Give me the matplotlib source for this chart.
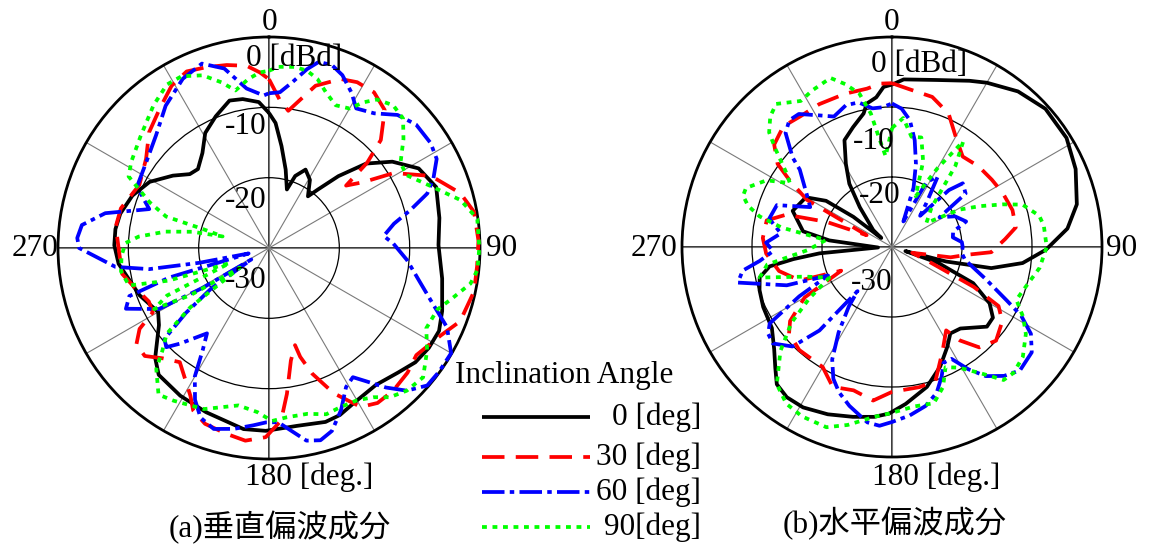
import numpy as np
import matplotlib
matplotlib.use('Agg')
import matplotlib.pyplot as plt
from matplotlib.lines import Line2D

# ---- data: angle [deg, clockwise from top] and level [dBd] ----
# (a) vertical polarisation
a_black_deg = [0, 3, 7, 12, 17, 20, 25, 31, 37, 40, 44, 49, 55, 62, 70, 80, 89, 100, 110, 116, 122, 128,
               134, 142, 151, 157, 162, 171, 181, 188, 201, 211, 221, 226, 235, 240, 250, 264, 271, 277,
               283, 291, 299, 307, 313, 318, 325, 331, 338, 345, 350, 356]
a_black_db = [-10.8, -12.2, -15.4, -18.6, -21.3, -19.1, -17.7, -18.7, -20.8, -19.1, -15.8, -11.7, -8.6,
              -5.9, -4.7, -5.4, -5.9, -5.0, -3.8, -3.1, -3.2, -3.6, -4.5, -5.3, -4.9, -4.2, -4.0, -4.4,
              -4.0, -4.0, -5.0, -5.5, -6.1, -7.5, -10.9, -11.8, -10.4, -8.5, -8.0, -8.0, -8.3, -9.2,
              -10.6, -12.9, -14.6, -14.9, -13.5, -11.3, -9.8, -8.3, -8.5, -9.2]

a_red_deg = [0, 4, 8, 12, 16, 23, 28, 34, 40, 46, 49, 51, 55, 59, 66, 74, 80, 88, 95, 102, 111, 117, 126,
             132, 139, 145, 150, 156, 161, 164, 165, 169, 173, 176, 181, 187, 193, 200, 205, 208, 213,
             218, 224, 229, 234, 238, 241, 246, 253, 260, 268, 278, 285, 296, 306, 314, 322, 329, 335,
             341, 347, 353, 357]
a_red_db = [-6.0, -8.8, -10.3, -8.4, -6.0, -3.9, -3.3, -3.3, -4.4, -7.9, -11.5, -15.9, -13.7, -9.3, -4.8,
            -1.7, -0.4, -0.2, -0.3, -0.2, -0.9, -2.6, -4.1, -3.5, -3.1, -3.1, -3.9, -7.4, -11.1, -13.9,
            -15.7, -13.7, -9.1, -5.4, -3.1, -2.4, -2.9, -3.4, -4.5, -6.2, -8.0, -9.4, -8.2, -6.6, -6.7,
            -8.3, -11.1, -11.3, -10.2, -8.8, -8.7, -8.0, -8.2, -9.5, -8.4, -6.3, -4.8, -3.1, -2.3, -2.8,
            -3.3, -3.9, -5.0]

a_blue_deg = [0, 4, 8, 12, 15, 19, 23, 28, 32, 38, 44, 50, 57, 62, 67, 71, 75, 79, 84, 88, 95, 103, 109,
              114, 120, 126, 131, 136, 140, 144, 147, 151, 156, 161, 165, 169, 173, 177, 181, 185, 191,
              197, 202, 206, 210, 213, 216, 223, 226, 229, 232, 235, 237, 239, 241, 247, 251, 253.5,
              255, 258, 260, 263, 270, 273, 277, 282, 288, 291, 295, 305, 315, 324, 333, 340, 346, 352,
              358]
a_blue_db = [-8.0, -7.8, -6.2, -4.0, -2.6, -2.5, -3.3, -5.0, -6.6, -5.7, -3.7, -2.7, -2.6, -3.0, -4.6,
             -6.2, -9.2, -11.9, -13.6, -12.3, -10.3, -7.9, -5.3, -2.3, -0.1, -0.1, -0.2, -1.8, -4.1,
             -6.6, -8.1, -7.4, -4.8, -2.5, -1.7, -2.1, -3.8, -5.2, -5.2, -4.7, -3.8, -3.1, -4.0, -6.0,
             -8.9, -12.7, -15.0, -11.4, -9.7, -10.3, -15.0, -20.0, -27.0, -19.0, -12.1, -7.9, -9.0,
             -15.2, -27.0, -19.9, -12.7, -8.0, -3.0, -2.7, -3.2, -6.2, -12.1, -11.0, -9.3, -8.7, -7.3,
             -5.0, -3.0, -2.1, -3.7, -7.1, -8.3]

a_green_deg = [0, 3, 8, 12, 16, 20, 25, 30, 33, 36, 41, 46, 51, 57, 62, 69, 76, 82, 90, 96, 100, 106,
               110, 117, 123, 130, 136, 141, 145, 150, 156, 161, 167, 174, 179, 184, 191, 202, 212, 217,
               223, 226, 230, 233, 236, 239, 242, 245, 249, 252, 255, 261, 267, 272, 275, 279, 282, 284,
               286, 287, 291, 297, 302, 311, 321, 328, 333, 339, 344, 348, 353, 357]
a_green_db = [-4.8, -4.2, -4.0, -4.2, -5.0, -6.4, -7.6, -7.1, -5.3, -3.9, -3.1, -3.5, -5.4, -7.7, -7.9,
              -5.4, -1.9, -0.1, -0.1, -0.2, -0.9, -3.2, -4.5, -4.9, -3.2, -1.4, -1.8, -2.7, -4.1, -5.0,
              -5.2, -5.0, -5.8, -5.8, -5.4, -6.6, -7.2, -5.3, -4.4, -3.9, -6.5, -8.9, -11.0, -16.0,
              -25.0, -17.0, -11.5, -14.0, -24.0, -15.0, -9.4, -8.7, -9.0, -9.6, -11.4, -15.1, -18.9,
              -23.2, -20.2, -14.7, -11.8, -7.6, -6.9, -5.8, -3.9, -2.6, -2.6, -3.7, -5.5, -7.1, -5.8,
              -5.0]

# (b) horizontal polarisation
b_black_deg = [0, 4, 15, 25, 30, 39, 48, 58, 67, 77, 84, 91, 97, 102, 105, 107, 109, 114, 120, 125, 130,
               140, 146, 151, 158, 166, 175, 181, 186, 193, 201, 209, 215, 220, 224, 229, 236, 245, 252,
               257, 261, 263, 265, 268, 276, 280, 290, 300, 305, 308, 310, 312, 321, 326, 331, 336, 342,
               348, 350, 354, 357]
b_black_db = [-6.8, -6.0, -5.3, -3.8, -2.9, -1.4, -0.5, -0.6, -1.5, -2.9, -4.8, -8.0, -11.2, -15.5,
              -22.0, -28.0, -23.0, -17.3, -13.9, -12.4, -12.3, -14.8, -15.1, -13.7, -11.6, -9.4, -7.5,
              -6.2, -5.6, -5.1, -4.4, -3.8, -3.8, -4.4, -6.0, -7.7, -9.3, -9.7, -10.1, -10.6, -12.3,
              -15.8, -19.6, -28.0, -21.0, -17.1, -14.9, -15.8, -18.5, -23.0, -28.0, -26.4, -22.7,
              -19.1, -16.4, -13.3, -12.0, -10.5, -9.2, -8.5, -7.1]

b_red_deg = [0, 6, 15, 23, 30, 38, 47, 56, 64, 73, 81, 86, 93, 96, 100, 106, 112, 116, 119, 124, 132, 139,
             144, 147, 154, 162, 169, 180, 187, 195, 203, 210, 222, 230, 234, 240, 245, 250, 258, 267,
             274, 282, 287, 291, 295, 299, 303, 306, 311, 318, 325, 333, 343, 351, 356]
b_red_db = [-6.6, -7.3, -7.8, -9.3, -11.8, -13.6, -13.1, -12.8, -12.4, -12.0, -12.1, -13.8, -15.8, -19.3,
            -21.5, -27.0, -24.0, -17.0, -12.6, -11.0, -10.0, -11.0, -13.5, -15.8, -13.5, -9.9, -9.6,
            -9.3, -7.9, -8.8, -8.3, -10.2, -10.2, -10.8, -12.0, -15.6, -22.0, -16.0, -13.5, -12.0,
            -11.5, -11.7, -14.2, -20.0, -26.0, -16.1, -12.6, -9.8, -7.7, -6.8, -7.2, -7.1, -7.1, -7.1,
            -6.6]

b_blue_deg = [0, 4, 8, 12, 16, 20, 24, 28, 33, 38, 42, 45, 48, 54, 58, 64, 71, 76, 81, 86, 90, 95, 100,
              109, 115, 118, 122, 127, 134, 139, 144, 148, 152, 156, 159, 163, 168, 174, 180, 184, 188,
              195, 200, 204, 208, 212, 216, 218, 221, 225, 231, 235, 238, 242, 246, 250, 257, 261, 264,
              268, 272, 277, 283, 290, 296, 302, 310, 312, 317, 321, 325, 331, 336, 342, 347, 352, 356]
b_blue_db = [-9.5, -10.2, -11.7, -14.4, -17.6, -21.0, -26.0, -19.5, -18.0, -22.0, -24.0, -18.5, -16.4,
             -17.0, -22.0, -20.0, -18.8, -21.0, -21.2, -20.0, -19.9, -20.0, -19.4, -15.8, -11.9, -9.1,
             -6.6, -5.0, -4.6, -5.6, -7.2, -9.4, -11.9, -11.9, -10.2, -8.2, -6.8, -5.8, -5.0, -4.4,
             -4.7, -6.5, -7.9, -9.4, -11.8, -15.6, -19.5, -22.0, -14.2, -9.9, -8.1, -8.4, -9.4, -15.0,
             -20.0, -14.0, -7.4, -8.4, -11.0, -13.0, -12.0, -14.0, -12.0, -12.5, -17.0, -15.6, -12.8,
             -10.9, -7.7, -6.7, -6.8, -8.5, -9.6, -8.7, -8.8, -10.0, -10.0]

b_green_deg = [0, 5, 10, 15, 20, 25, 30, 34, 38, 45, 55, 61, 65, 69, 72, 78, 82, 90, 98, 106, 113, 118,
               123, 130, 136, 140, 145, 151, 156, 160, 165, 172, 181, 186, 194, 200, 208, 214, 220, 227,
               233, 238, 244, 251, 257, 262, 268, 276, 280, 283, 286, 289, 292, 298, 302, 305, 310, 313,
               317, 321, 328, 333, 340, 344, 348, 351, 353, 356]
b_green_db = [-13.0, -11.5, -14.0, -13.8, -17.0, -22.0, -17.0, -11.8, -15.3, -22.0, -24.0, -19.0, -16.2,
              -13.0, -10.4, -8.5, -8.1, -7.9, -8.7, -10.0, -10.7, -8.8, -7.2, -5.6, -5.0, -5.2, -8.0,
              -10.3, -11.2, -8.7, -6.9, -7.0, -6.2, -5.6, -3.8, -2.6, -2.6, -3.0, -4.4, -8.2, -12.0,
              -16.0, -20.0, -17.0, -10.6, -12.0, -18.0, -20.5, -14.0, -10.6, -8.6, -7.5, -7.5, -9.7,
              -12.8, -11.6, -8.3, -6.0, -4.5, -3.7, -5.4, -4.9, -4.3, -5.8, -7.6, -10.7, -14.0, -17.0]

legend_labels = ['0 [deg]', '30 [deg]', '60 [deg]', '90[deg]']

W, H = 1152, 553
plt.rcParams['font.family'] = ['Liberation Serif', 'Noto Sans CJK JP']
plt.rcParams['font.size'] = 22.5

styles = [
    dict(color='black', lw=2.7, solid_capstyle='butt'),
    dict(color='#ff0000', lw=2.7, dashes=(6.0, 3.0)),
    dict(color='#0000ff', lw=2.7, dashes=(6.0, 1.4, 1.2, 1.4)),
    dict(color='#00ff00', lw=2.7, dashes=(1.3, 1.5)),
]

fig = plt.figure(figsize=(W / 100, H / 100), dpi=100)


def px_text(x, y, s, **kw):
    fig.text(x / W, 1 - y / H, s, **kw)


def polar_panel(cx, cy, r, curves):
    ax = fig.add_axes([(cx - r) / W, 1 - (cy + r) / H, 2 * r / W, 2 * r / H], projection='polar')
    ax.set_theta_zero_location('N')
    ax.set_theta_direction(-1)
    ax.set_ylim(-30, 0)
    ax.set_yticks([-20, -10])
    ax.set_yticklabels([])
    ax.set_xticks(np.deg2rad(np.arange(0, 360, 30)))
    ax.set_xticklabels([])
    ax.tick_params(length=0)
    ax.xaxis.grid(True, color='#7a7a7a', lw=0.8)
    ax.yaxis.grid(True, color='black', lw=0.9)
    ax.spines['polar'].set_linewidth(2.0)
    for t in (0, 90, 180, 270):
        ax.plot([np.deg2rad(t)] * 2, [-30, 0], color='black', lw=1.1, zorder=1)
    lines = []
    for (deg, db), st in zip(curves, styles):
        th = np.deg2rad(np.r_[deg, deg[0] + 360])
        rr = np.clip(np.r_[db, db[0]], -30, 0)
        ln, = ax.plot(th, rr, clip_on=False, zorder=3, **st)
        lines.append(ln)
    return ax, lines


ax_a, lines = polar_panel(269, 248, 211, [(a_black_deg, a_black_db), (a_red_deg, a_red_db),
                                          (a_blue_deg, a_blue_db), (a_green_deg, a_green_db)])
ax_b, _ = polar_panel(892, 247, 210, [(b_black_deg, b_black_db), (b_red_deg, b_red_db),
                                      (b_blue_deg, b_blue_db), (b_green_deg, b_green_db)])

# ring and angle labels, left panel
px_text(266, 127, '-10', ha='right', va='center')
px_text(266, 200, '-20', ha='right', va='center')
px_text(266, 281, '-30', ha='right', va='center')
px_text(246, 58, '0 [dBd]', ha='left', va='center')
px_text(270, 22, '0', ha='center', va='center')
px_text(486, 248, '90', ha='left', va='center')
px_text(58, 248, '270', ha='right', va='center')
px_text(245, 477, '180 [deg.]', ha='left', va='center')

# right panel
px_text(894, 141, '-10', ha='right', va='center')
px_text(900, 195, '-20', ha='right', va='center')
px_text(892, 283, '-30', ha='right', va='center')
px_text(871, 64, '0 [dBd]', ha='left', va='center')
px_text(892, 22, '0', ha='center', va='center')
px_text(1106, 248, '90', ha='left', va='center')
px_text(677, 248, '270', ha='right', va='center')
px_text(872, 477, '180 [deg.]', ha='left', va='center')

# legend drawn by hand
px_text(455, 376, 'Inclination Angle', ha='left', va='center')
for i, (ln, lab) in enumerate(zip(lines, legend_labels)):
    y = [417, 457, 492, 527][i]
    st = styles[i]
    fig.add_artist(Line2D([482 / W, 590 / W], [1 - y / H] * 2, transform=fig.transFigure, **st))
    px_text(701, y, lab, ha='right', va='center')

# captions
px_text(280, 528, '(a)垂直偏波成分', ha='center', va='center')
px_text(895, 524, '(b)水平偏波成分', ha='center', va='center')

fig.savefig('out.png', dpi=100)
